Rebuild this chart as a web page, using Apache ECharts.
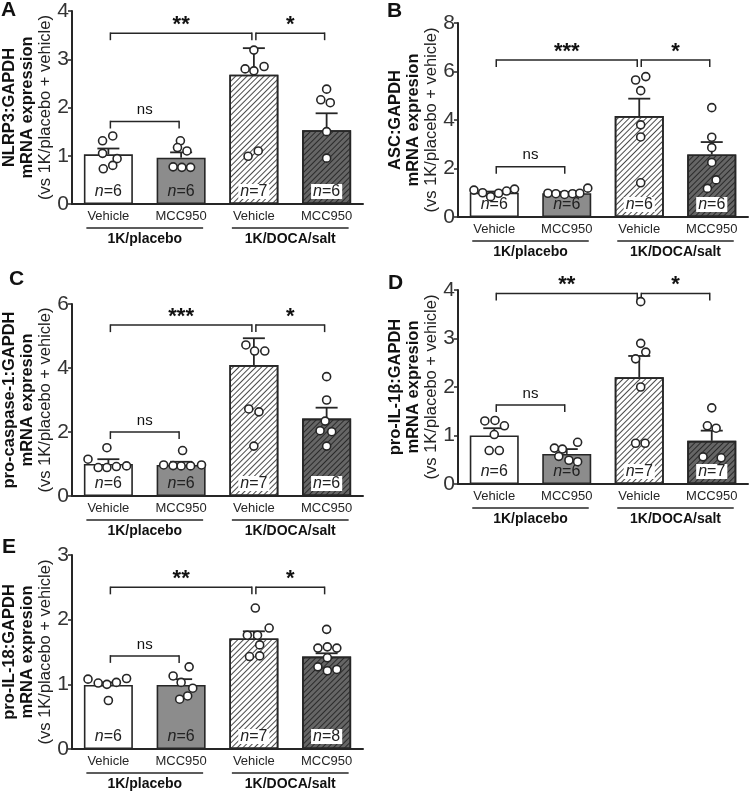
<!DOCTYPE html>
<html>
<head>
<meta charset="utf-8">
<script src="https://cdn.jsdelivr.net/npm/echarts@6/dist/echarts.min.js"></script>
<style>
html,body{margin:0;padding:0;background:#fff;}
#chart{width:749px;height:793px;}
</style>
</head>
<body>
<div id="chart"></div>
<script>
const groups = ['Vehicle', 'MCC950', 'Vehicle', 'MCC950'];
const treatments = ['1K/placebo', '1K/DOCA/salt'];
const letters = ['A', 'B', 'C', 'D', 'E'];
const genes = ['NLRP3:GAPDH', 'ASC:GAPDH', 'pro-caspase-1:GAPDH', 'pro-IL-1β:GAPDH', 'pro-IL-18:GAPDH'];
const mrnaLines = ['mRNA expression', 'mRNA expresion', 'mRNA expresion', 'mRNA expresion', 'mRNA expresion'];
const yMax = [4, 8, 6, 4, 3];
const yStep = [1, 2, 2, 1, 1];
const topStars = ['**', '***', '***', '**', '**'];

// A: NLRP3
const meanA = [1.03, 0.96, 2.68, 1.53];
const semA = [0.12, 0.11, 0.55, 0.35];
const nA = [6, 6, 7, 6];
const bracketA = [3.54, 1.71];
const dotsA = [
  [[-0.08, 1.31], [0.06, 1.41], [-0.08, 1.05], [0.12, 0.94], [-0.07, 0.73], [0.06, 0.80]],
  [[-0.01, 1.31], [-0.05, 1.17], [0.08, 1.10], [-0.11, 0.77], [0.01, 0.76], [0.13, 0.76]],
  [[0, 3.19], [-0.12, 2.80], [0, 2.76], [0.14, 2.85], [-0.08, 0.99], [0.06, 1.10]],
  [[0, 2.38], [-0.08, 2.16], [0.05, 2.10], [0, 1.50], [0, 0.95]]
];

// B: ASC
const meanB = [1.00, 0.98, 4.16, 2.58];
const semB = [0.05, 0.05, 0.72, 0.51];
const nB = [6, 6, 6, 6];
const bracketB = [6.47, 2.07];
const dotsB = [
  [[-0.28, 1.11], [-0.16, 1.00], [-0.05, 0.84], [0.06, 0.98], [0.17, 1.07], [0.28, 1.15]],
  [[-0.26, 0.98], [-0.15, 0.96], [-0.03, 0.93], [0.08, 0.96], [0.18, 0.98], [0.29, 1.19]],
  [[-0.05, 5.65], [0.09, 5.79], [0.02, 5.21], [0.02, 3.8], [0.02, 3.3], [0.02, 1.41]],
  [[0, 4.51], [0, 3.29], [0, 2.86], [0, 2.25], [0.06, 1.53], [-0.06, 1.18]]
];

// C: pro-caspase-1
const meanC = [1.00, 0.97, 4.09, 2.42];
const semC = [0.15, 0.10, 0.84, 0.34];
const nC = [6, 6, 7, 6];
const bracketC = [5.34, 2.0];
const dotsC = [
  [[-0.28, 1.15], [-0.02, 1.51], [-0.14, 0.89], [-0.02, 0.89], [0.11, 0.92], [0.25, 0.94]],
  [[0.02, 1.42], [-0.24, 0.97], [-0.11, 0.95], [0, 0.94], [0.13, 0.94], [0.28, 0.97]],
  [[-0.11, 4.72], [0.01, 4.53], [0.15, 4.53], [-0.07, 2.72], [0.07, 2.63], [0, 1.56]],
  [[0, 3.73], [0, 3.0], [-0.02, 2.34], [-0.09, 2.04], [0.07, 2.01], [0, 1.56]]
];

// D: pro-IL-1beta
const meanD = [1.00, 0.62, 2.20, 0.89];
const semD = [0.15, 0.10, 0.44, 0.21];
const nD = [6, 6, 7, 7];
const bracketD = [3.93, 1.63];
const dotsD = [
  [[-0.13, 1.30], [0.01, 1.31], [0.14, 1.20], [0, 1.02], [-0.07, 0.69], [0.07, 0.69]],
  [[-0.17, 0.74], [-0.06, 0.72], [0.15, 0.86], [-0.11, 0.57], [0.03, 0.49], [0.15, 0.46]],
  [[0.02, 3.76], [0.02, 2.90], [-0.05, 2.58], [0.09, 2.72], [0.02, 2.0], [-0.05, 0.84], [0.08, 0.84]],
  [[0, 1.57], [-0.06, 1.20], [0.06, 1.15], [-0.12, 0.56], [0.13, 0.54]]
];

// E: pro-IL-18
const meanE = [0.99, 0.99, 1.71, 1.43];
const semE = [0.04, 0.09, 0.11, 0.05];
const nE = [6, 6, 7, 8];
const bracketE = [2.5, 1.44];
const dotsE = [
  [[-0.28, 1.08], [-0.14, 1.02], [-0.02, 1.0], [0.11, 1.03], [0.25, 1.09], [0, 0.75]],
  [[0.11, 1.27], [-0.11, 1.13], [0, 1.03], [0.16, 0.94], [-0.02, 0.77], [0.09, 0.82]],
  [[0.02, 2.18], [0.21, 1.87], [-0.09, 1.76], [0.05, 1.76], [0.08, 1.61], [-0.06, 1.43], [0.08, 1.44]],
  [[0, 1.85], [-0.12, 1.56], [0.01, 1.58], [0.14, 1.56], [0.01, 1.41], [-0.12, 1.27], [0.01, 1.21], [0.14, 1.23]]
];

const panels = [
  {mean: meanA, sem: semA, n: nA, br: bracketA, dots: dotsA},
  {mean: meanB, sem: semB, n: nB, br: bracketB, dots: dotsB},
  {mean: meanC, sem: semC, n: nC, br: bracketC, dots: dotsC},
  {mean: meanD, sem: semD, n: nD, br: bracketD, dots: dotsD},
  {mean: meanE, sem: semE, n: nE, br: bracketE, dots: dotsE}
];

// layout
const FONT = '"Liberation Sans", Arial, Helvetica, sans-serif';
const INK = '#262626';
const gridPos = [
  {left: 72, top: 11, width: 291, height: 193},
  {left: 458, top: 23, width: 290, height: 194},
  {left: 72, top: 304, width: 291, height: 192},
  {left: 458, top: 290, width: 290, height: 194},
  {left: 72, top: 555, width: 291, height: 194}
];
const letterPos = [[1, 0], [387, 1], [9, 269], [388, 273], [2, 537]];

const hatch = (c) => ({
  symbol: 'rect', symbolSize: 1, dashArrayX: [1, 0], dashArrayY: [1, 2.2],
  rotation: -Math.PI / 4, color: c
});
const barStyles = [
  {color: '#ffffff'},
  {color: '#8c8c8c'},
  {color: '#ffffff', decal: hatch('#4a4a4a')},
  {color: '#666666', decal: hatch('#2a2a2a')}
];

let chart = echarts.init(document.getElementById('chart'));
let grid = [], xAxis = [], yAxis = [], series = [], title = [];

function seg(x1, y1, x2, y2, w) {
  return {type: 'line', shape: {x1: x1, y1: y1, x2: x2, y2: y2}, style: {stroke: INK, lineWidth: w}};
}

panels.forEach((p, k) => {
  grid.push(Object.assign({outerBoundsMode: 'none', containLabel: false}, gridPos[k]));
  title.push({
    text: letters[k], left: letterPos[k][0], top: letterPos[k][1], padding: 0,
    textStyle: {fontSize: 21, fontWeight: 'bold', color: '#111', fontFamily: FONT}
  });
  // bar categories
  xAxis.push({
    gridIndex: k, type: 'category', data: groups,
    axisLine: {lineStyle: {color: INK, width: 2}},
    axisTick: {alignWithLabel: true, length: 4, lineStyle: {color: INK, width: 1.5}},
    axisLabel: {fontSize: 13, color: INK, margin: 6, fontFamily: FONT}
  });
  // treatment groups
  xAxis.push({
    gridIndex: k, type: 'category', data: treatments, position: 'bottom', offset: 24,
    axisLine: {show: false}, axisTick: {show: false},
    axisLabel: {fontSize: 14, fontWeight: 'bold', color: '#111', margin: 4, fontFamily: FONT}
  });
  // hidden value axis for the jittered points
  xAxis.push({gridIndex: k, type: 'value', min: -0.5, max: 3.5, show: false});

  yAxis.push({
    gridIndex: k, type: 'value', min: 0, max: yMax[k], interval: yStep[k],
    axisLine: {show: true, onZero: false, lineStyle: {color: INK, width: 2}},
    axisTick: {show: true, length: 4, lineStyle: {color: INK, width: 1.5}},
    splitLine: {show: false},
    axisLabel: {fontSize: 21, color: '#333', margin: 3, fontFamily: FONT},
    name: '{b|' + genes[k] + '}\n{b|' + mrnaLines[k] + '}\n{r|(vs 1K/placebo + vehicle)}',
    nameLocation: 'middle', nameRotate: 90, nameGap: 18, nameMoveOverlap: false,
    nameTextStyle: {
      rich: {
        b: {fontSize: 16.5, fontWeight: 'bold', lineHeight: 18, color: '#111', fontFamily: FONT},
        r: {fontSize: 16.5, lineHeight: 18, color: '#222', fontFamily: FONT}
      }
    }
  });

  const cx = 3 * k, vx = 3 * k + 2;

  series.push({
    type: 'bar', xAxisIndex: cx, yAxisIndex: k, barWidth: 49, z: 2,
    data: p.mean.map((m, i) => ({
      value: m,
      itemStyle: Object.assign({borderColor: INK, borderWidth: 1.6}, barStyles[i]),
      label: i >= 2 ? {backgroundColor: '#fff', padding: [0, 2]} : {}
    })),
    label: {
      show: true, position: 'insideBottom', distance: 5,
      formatter: (q) => '{i|n}=' + p.n[q.dataIndex],
      fontSize: 16, color: '#222', fontFamily: FONT, lineHeight: 15,
      rich: {i: {fontStyle: 'italic', fontSize: 16, color: '#222', fontFamily: FONT, lineHeight: 15}}
    },
    emphasis: {disabled: true}
  });

  let pts = [];
  p.dots.forEach((arr, i) => arr.forEach(d => pts.push([i + d[0], d[1]])));
  series.push({
    type: 'scatter', xAxisIndex: vx, yAxisIndex: k, z: 4, symbol: 'circle', symbolSize: 8,
    itemStyle: {color: '#fff', borderColor: INK, borderWidth: 1.6, opacity: 1},
    data: pts, emphasis: {disabled: true}
  });

  // SEM caps, significance brackets, group underlines
  const items = [];
  p.mean.forEach((m, i) => items.push({kind: 'err', i: i, v: m + p.sem[i]}));
  items.push({kind: 'br', i: 0, j: 2, v: p.br[0], t: topStars[k]});
  items.push({kind: 'br', i: 2, j: 3, v: p.br[0], t: '*'});
  items.push({kind: 'br', i: 0, j: 1, v: p.br[1], t: 'ns'});
  items.push({kind: 'grp', i: 0, j: 1, v: 0});
  items.push({kind: 'grp', i: 2, j: 3, v: 0});

  series.push({
    type: 'custom', xAxisIndex: cx, yAxisIndex: k, z: 3, clip: false, silent: true,
    data: items.map(it => [it.i, it.v]),
    renderItem: (params, api) => {
      const it = items[params.dataIndex];
      if (it.kind === 'err') {
        const base = api.coord([it.i, p.mean[it.i]]);
        const top = api.coord([it.i, it.v]);
        return {type: 'group', children: [
          seg(top[0], base[1], top[0], top[1], 1.8),
          seg(top[0] - 11, top[1], top[0] + 11, top[1], 1.8)
        ]};
      }
      const a = api.coord([it.i, it.v]);
      const b = api.coord([it.j, it.v]);
      if (it.kind === 'grp') {
        return seg(a[0] - 22, a[1] + 24, b[0] + 22, a[1] + 24, 1.5);
      }
      const x0 = a[0] + 2, x1 = b[0] - 2, y = a[1];
      const isNs = it.t === 'ns';
      return {type: 'group', children: [
        seg(x0, y, x1, y, 1.5),
        seg(x0, y - 0.75, x0, y + 7, 1.5),
        seg(x1, y - 0.75, x1, y + 7, 1.5),
        {type: 'text', x: (x0 + x1) / 2, y: isNs ? y - 4 : y + 3,
          style: {text: it.t, fill: '#111', align: 'center', verticalAlign: 'bottom',
            font: (isNs ? 'normal 15px ' : 'bold 22px ') + FONT}}
      ]};
    }
  });
});

chart.setOption({
  animation: false,
  backgroundColor: '#fff',
  textStyle: {fontFamily: FONT},
  title: title, grid: grid, xAxis: xAxis, yAxis: yAxis, series: series
});
</script>
</body>
</html>
